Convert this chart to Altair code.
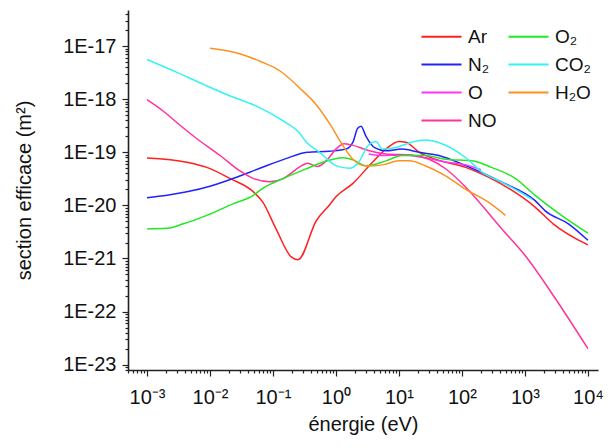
import altair as alt
import pandas as pd

# ---- data (energy in eV, cross section in m^2) ----
ar_e = [1e-3, 4.3e-3, 8.9e-3, 2.1e-2, 4.9e-2, 6.9e-2, 0.112, 0.195, 0.25, 0.49, 0.79, 1.0, 1.86, 3.8, 6.2, 10, 12.9, 21, 38, 115, 263, 1450, 2800, 1e4]
ar_s = [7.8e-20, 6.5e-20, 5.2e-20, 3.2e-20, 1.8e-20, 1.15e-20, 3.6e-21, 1.07e-21, 9.5e-22, 5.2e-21, 1.02e-20, 1.45e-20, 2.6e-20, 6.5e-20, 1.15e-19, 1.6e-19, 1.55e-19, 1.0e-19, 7.4e-20, 5.2e-20, 3.4e-20, 9.3e-21, 4.5e-21, 1.8e-21]

n2_e = [1e-3, 2.1e-3, 4.3e-3, 1e-2, 2.3e-2, 6.2e-2, 0.16, 0.35, 0.79, 1.45, 1.86, 2.2, 2.5, 3.0, 4.1, 6.2, 11.2, 21, 43, 115, 430, 1450, 2100, 4900, 1e4]
n2_s = [1.4e-20, 1.55e-20, 1.8e-20, 2.3e-20, 3.2e-20, 5.0e-20, 7.6e-20, 1.0e-19, 1.05e-19, 1.15e-19, 1.55e-19, 2.8e-19, 3.1e-19, 2.0e-19, 1.23e-19, 1.07e-19, 1.15e-19, 1.0e-19, 8.7e-20, 5.6e-20, 2.75e-20, 1.23e-20, 7.9e-21, 4.5e-21, 2.2e-21]

o_e = [3.3, 5.5, 11.2, 26, 55, 115, 200]
o_s = [9.3e-20, 8.7e-20, 8.9e-20, 7.9e-20, 6.6e-20, 5.8e-20, 4.7e-20]

no_e = [1e-3, 1.8e-3, 3.0e-3, 6.2e-3, 1.45e-2, 2.95e-2, 4.9e-2, 8.9e-2, 0.145, 0.26, 0.355, 0.51, 0.74, 1.0, 1.35, 1.74, 3.4, 6.2, 16, 30, 55, 115, 430, 1000, 3000, 1e4]
no_s = [9.8e-19, 6.0e-19, 3.6e-19, 1.8e-19, 8.7e-20, 4.5e-20, 3.2e-20, 2.8e-20, 3.2e-20, 5.2e-20, 6.2e-20, 5.4e-20, 7.4e-20, 1.15e-19, 1.45e-19, 1.38e-19, 1.07e-19, 9.3e-20, 8.9e-20, 7.4e-20, 4.9e-20, 2.2e-20, 3.6e-21, 1.15e-21, 1.8e-22, 2.0e-23]

o2_e = [1e-3, 2.1e-3, 3.8e-3, 8.9e-3, 2.3e-2, 4.9e-2, 6.9e-2, 0.145, 0.34, 0.62, 1.3, 1.86, 3.0, 6.2, 11.2, 26, 55, 145, 295, 710, 1450, 3800, 1e4]
o2_s = [3.6e-21, 3.7e-21, 4.5e-21, 6.5e-21, 1.07e-20, 1.55e-20, 2.1e-20, 3.2e-20, 4.9e-20, 6.5e-20, 7.9e-20, 7.2e-20, 5.6e-20, 6.9e-20, 8.7e-20, 8.7e-20, 7.4e-20, 6.9e-20, 5.2e-20, 3.2e-20, 1.55e-20, 6.5e-21, 3.0e-21]

co2_e = [1e-3, 3.0e-3, 7.9e-3, 2.1e-2, 5.5e-2, 0.145, 0.26, 0.34, 0.55, 1.0, 1.62, 2.3, 3.2, 4.3, 5.5, 8.9, 16, 26, 48, 115, 210, 430, 1300]
co2_s = [5.6e-18, 3.2e-18, 1.9e-18, 1.15e-18, 7.4e-19, 3.9e-19, 2.35e-19, 1.55e-19, 1.0e-19, 5.6e-20, 5.0e-20, 6.5e-20, 1.32e-19, 1.6e-19, 1.15e-19, 1.23e-19, 1.55e-19, 1.7e-19, 1.45e-19, 7.9e-20, 4.2e-20, 2.75e-20, 1.3e-20]

h2o_e = [1e-2, 2.95e-2, 6.2e-2, 0.13, 0.26, 0.49, 0.79, 1.3, 1.86, 3.0, 5.5, 10, 14.5, 26, 55, 115, 263, 490]
h2o_s = [9.1e-18, 7.2e-18, 5.2e-18, 3.4e-18, 1.66e-18, 7.8e-19, 3.5e-19, 1.32e-19, 7.4e-20, 5.5e-20, 5.8e-20, 6.9e-20, 6.9e-20, 5.6e-20, 3.6e-20, 2.0e-20, 1.15e-20, 6.5e-21]

# legend order (two columns, filled column by column)
gas_names = ["Ar", "N₂", "O", "NO", "O₂", "CO₂", "H₂O"]
gas_colors = ["#FF2020", "#2222FF", "#FF33FF", "#FF3399", "#22E822", "#33F2F2", "#FF9020"]

series = [
    ("Ar", ar_e, ar_s), ("N₂", n2_e, n2_s), ("O", o_e, o_s), ("NO", no_e, no_s),
    ("O₂", o2_e, o2_s), ("CO₂", co2_e, co2_s), ("H₂O", h2o_e, h2o_s),
]
rows = []
for name, es, ss in series:
    for i, (e, s) in enumerate(zip(es, ss)):
        rows.append({"gaz": name, "energie": e, "section": s, "ordre": i})
df = pd.DataFrame(rows)

FONT = "Liberation Sans"
x_min, x_max = 5.0e-4, 1.445e4
y_min, y_max = 7.94e-24, 4.79e-17

x_ticks = [m * 10.0 ** k for k in range(-4, 5) for m in range(1, 10) if x_min <= m * 10.0 ** k <= x_max]
y_ticks = [m * 10.0 ** k for k in range(-24, -15) for m in range(1, 10) if y_min <= m * 10.0 ** k <= y_max]

LOG = "(log(datum.value)/LN10)"
MAJOR = f"abs({LOG} - round({LOG})) < 1e-6"
sup = {-3: "⁻³", -2: "⁻²", -1: "⁻¹", 0: "⁰", 1: "¹", 2: "²", 3: "³", 4: "⁴"}
x_label_expr = "".join(f"abs({LOG} - ({k})) < 1e-6 ? '10{s}' : " for k, s in sup.items()) + "''"
y_label_expr = f"{MAJOR} ? '1E' + round({LOG}) : ''"

tick_size = {"condition": {"test": MAJOR, "value": 6}, "value": 3}

common_axis = dict(
    grid=False, tickColor="#222222", tickWidth=1.2, domainColor="#222222", domainWidth=1.6,
    labelFont=FONT, labelFontSize=20, labelColor="#111111", labelOverlap=False, labelFlush=False,
    titleFont=FONT, titleFontSize=20, titleFontWeight="normal", titleColor="#111111",
)

chart = (
    alt.Chart(df)
    .mark_line(strokeWidth=1.5, interpolate="monotone")
    .encode(
        x=alt.X("energie:Q",
                scale=alt.Scale(type="log", domain=[x_min, x_max], nice=False),
                axis=alt.Axis(values=x_ticks, labelExpr=x_label_expr, tickSize=tick_size,
                              labelPadding=11, title="énergie (eV)", titlePadding=7, **common_axis)),
        y=alt.Y("section:Q",
                scale=alt.Scale(type="log", domain=[y_min, y_max], nice=False),
                axis=alt.Axis(values=y_ticks, labelExpr=y_label_expr, tickSize=tick_size,
                              labelPadding=6, title="section efficace (m²)", titlePadding=28, **common_axis)),
        color=alt.Color("gaz:N",
                        scale=alt.Scale(domain=gas_names, range=gas_colors),
                        legend=alt.Legend(title=None, orient="none", legendX=304, legendY=17, columns=2,
                                          symbolType="M-4,0H4", symbolSize=100, symbolStrokeWidth=2,
                                          labelFont=FONT, labelFontSize=19, labelColor="#111111",
                                          labelOffset=17, rowPadding=8, columnPadding=7, padding=0)),
        detail="gaz:N",
        order="ordre:Q",
    )
    .properties(width=470, height=360,
                autosize=alt.AutoSizeParams(type="none"),
                padding={"left": 120, "top": 2, "right": 7, "bottom": 70})
    .configure_view(stroke=None)
)

chart.save("out.html", embed_options={"renderer": "svg", "actions": False})
